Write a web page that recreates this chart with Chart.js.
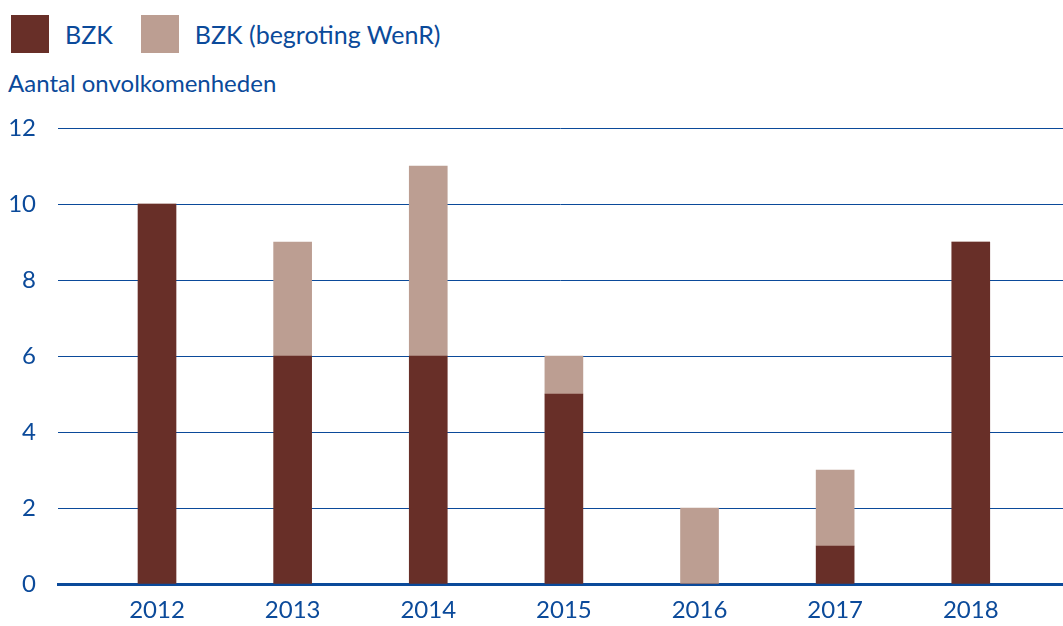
<!DOCTYPE html>
<html>
<head>
<meta charset="utf-8">
<script src="https://cdn.jsdelivr.net/npm/chart.js@4/dist/chart.umd.min.js"></script>
<style>
    html, body { margin: 0; padding: 0; background: #ffffff; }
    .wrap { position: relative; width: 1063px; height: 626px; font-family: Lato, "Open Sans", sans-serif; color: #0b4a9a; }
    .legend { position: absolute; left: 11px; top: 15px; display: flex; align-items: center; font-size: 25px; }
    .legend .sw { width: 38px; height: 38px; margin-right: 16px; }
    .legend .lbl { margin-right: 28px; }
    .ytitle { position: absolute; left: 8px; top: 68px; font-size: 24px; }
    canvas { position: absolute; left: 0; top: 0; }
</style>
</head>
<body>
<div class="wrap">
    <div class="legend" id="legend"></div>
    <div class="ytitle" id="ytitle"></div>
    <canvas id="chart" width="1063" height="626"></canvas>
</div>
<script>
const years = [2012, 2013, 2014, 2015, 2016, 2017, 2018];
const bzk = [10, 6, 6, 5, 0, 1, 9];
const wenr = [0, 3, 5, 1, 2, 2, 0];
const seriesNames = ['BZK', 'BZK (begroting WenR)'];
const yTicks = [0, 2, 4, 6, 8, 10, 12];
const yTitle = 'Aantal onvolkomenheden';

const BLUE = '#0b4a9a';
const colors = ['#682f28', '#bc9e92'];

// html legend + axis title
const legendEl = document.getElementById('legend');
seriesNames.forEach((name, i) => {
    legendEl.insertAdjacentHTML('beforeend',
        `<div class="sw" style="background:${colors[i]}"></div><div class="lbl">${name}</div>`);
});
document.getElementById('ytitle').textContent = yTitle;

const toPoints = arr => years.map((y, i) => ({ x: y, y: arr[i] }));

new Chart(document.getElementById('chart'), {
    type: 'bar',
    data: {
        datasets: [
            { label: seriesNames[0], data: toPoints(bzk), backgroundColor: colors[0], borderWidth: 0, barThickness: 38 },
            { label: seriesNames[1], data: toPoints(wenr), backgroundColor: colors[1], borderWidth: 0, barThickness: 38 }
        ]
    },
    options: {
        responsive: false,
        animation: false,
        layout: { padding: { top: 128, right: 0, bottom: 0, left: 0 } },
        plugins: {
            legend: { display: false },
            tooltip: { enabled: false }
        },
        scales: {
            x: {
                type: 'linear',
                stacked: true,
                offset: false,
                min: 2011.27,
                max: 2018.68,
                z: 1,
                afterBuildTicks: scale => { scale.ticks = years.map(v => ({ value: v })); },
                afterFit: scale => { scale.height = 42; },
                grid: { display: false, drawTicks: false },
                border: { display: true, color: BLUE, width: 3 },
                ticks: {
                    padding: 12,
                    color: BLUE,
                    font: { family: 'Lato', size: 24 },
                    callback: v => String(v)
                }
            },
            y: {
                stacked: true,
                min: 0,
                max: 12,
                afterBuildTicks: scale => { scale.ticks = yTicks.map(v => ({ value: v })); },
                afterFit: scale => { scale.width = 58; },
                grid: { color: BLUE, lineWidth: 1, drawTicks: false },
                border: { display: false },
                ticks: {
                    padding: 22,
                    color: BLUE,
                    font: { family: 'Lato', size: 24 }
                }
            }
        }
    }
});
</script>
</body>
</html>
